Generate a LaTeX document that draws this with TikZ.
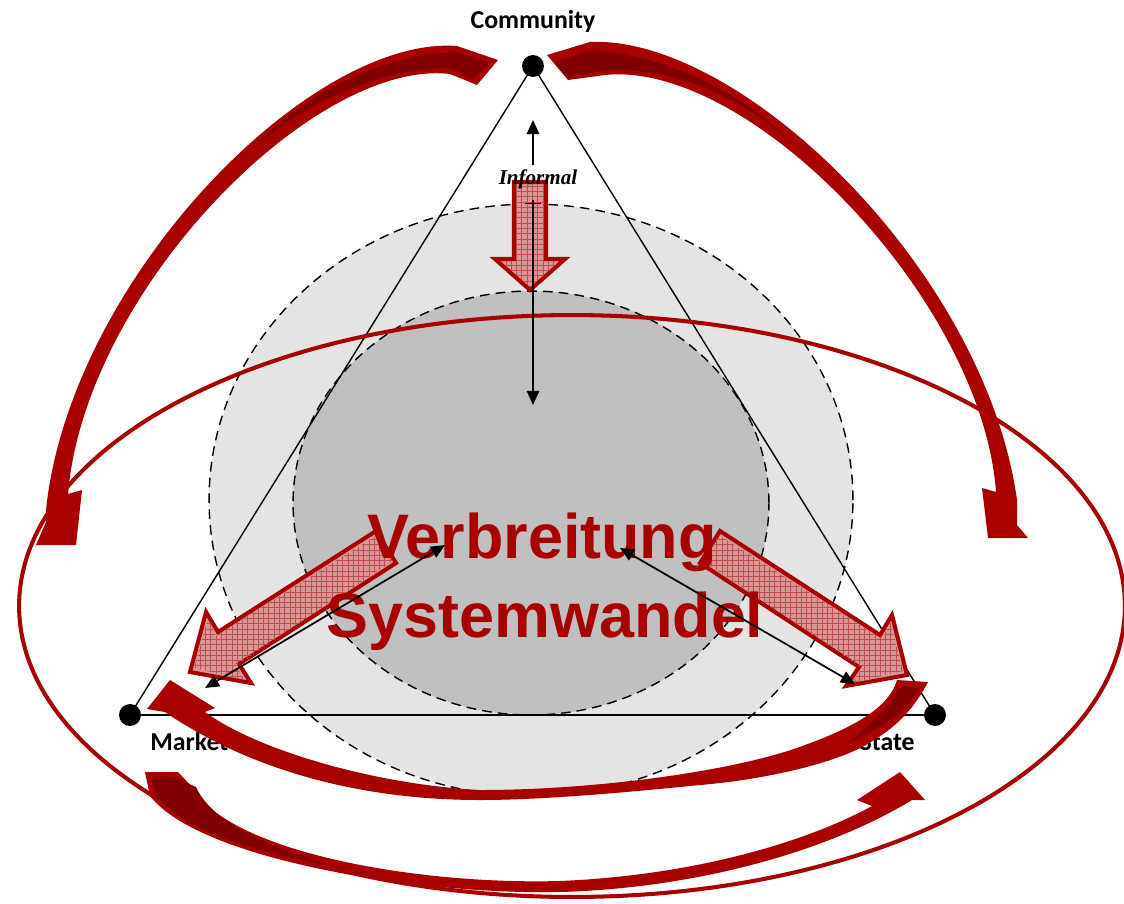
\documentclass[tikz,border=0pt]{standalone}
\usepackage{fontspec}
\setmainfont{Liberation Serif}
\newfontfamily\labelfont{Carlito}
\newfontfamily\bigfont{Liberation Sans}
\usetikzlibrary{arrows.meta,patterns}

\definecolor{arrowred}{RGB}{168,0,0}
\definecolor{backred}{RGB}{128,0,0}
\definecolor{hatchpink}{RGB}{214,152,152}
\definecolor{lightcircle}{RGB}{228,228,228}
\definecolor{darkcircle}{RGB}{192,192,192}

\begin{document}
\begin{tikzpicture}[x=0.02cm, y=-0.02cm,
    corner/.style={circle, fill=black, inner sep=0pt, minimum size=12.5pt},
    vertexlabel/.style={font=\labelfont\bfseries\fontsize{14.7}{17}\selectfont, inner sep=0pt},
    bigtext/.style={font=\bigfont\bfseries\fontsize{35.8}{43}\selectfont, text=arrowred, inner sep=0pt},
    zone/.style={dashed, dash pattern=on 5.5pt off 3.5pt, line width=0.8pt},
    blockarrow/.style={fill=hatchpink, draw=arrowred, line width=2.3pt, line join=miter},
    flow/.style={line width=1pt, {Triangle[length=8pt,width=7pt]}-{Triangle[length=8pt,width=7pt]}},
    loop/.style={arrowred, line width=2.3pt}]
  \useasboundingbox (0,0) rectangle (1124,903);

  % Circles (Background)
  \draw[zone, fill=lightcircle] (531,500) ellipse [x radius=6.44cm, y radius=5.92cm];
  \draw[zone, fill=darkcircle] (531,503) ellipse [x radius=4.76cm, y radius=4.24cm];

  % Triangle
  \node (community) [corner] at (533,66) {};
  \node (market) [corner] at (130,715) {};
  \node (state) [corner] at (935,715) {};
  \draw[line width=0.8pt] (community.center) -- (market.center);
  \draw[line width=0.8pt] (community.center) -- (state.center);
  \draw[line width=1.6pt] (market.center) -- (state.center);

  \node (communitylabel) [vertexlabel, anchor=base] at (533,28) {Community};
  \node (marketlabel) [vertexlabel, anchor=base west] at (150,750) {Market};
  \node (statelabel) [vertexlabel, anchor=base east] at (915,750) {State};

  % Thin loop
  \draw[loop] (572,606) ellipse [x radius=11.06cm, y radius=5.82cm];

  % Block arrows
  \draw[blockarrow] (514,182) -- (546,182) -- (546,259) -- (565,259) -- (530,290) -- (495,259) -- (514,259) -- cycle;
  \fill[pattern=grid, pattern color=arrowred!70] (516,184) -- (544,184) -- (544,261) -- (560,261) -- (530,287) -- (500,261) -- (516,261) -- cycle;
  \draw[blockarrow] (376,531) -- (218,632) -- (206,612) -- (190,672) -- (251,683) -- (239,664) -- (396,563) -- cycle;
  \fill[pattern=grid, pattern color=arrowred!70] (377,535) -- (216,636) -- (208,618) -- (194,668) -- (245,680) -- (235,666) -- (393,561) -- cycle;
  \draw[blockarrow] (720,531) -- (880,635) -- (892,615) -- (907,675) -- (846,686) -- (859,667) -- (700,563) -- cycle;
  \fill[pattern=grid, pattern color=arrowred!70] (719,535) -- (882,639) -- (890,621) -- (903,671) -- (852,683) -- (862,668) -- (703,561) -- cycle;

  % Main text
  \node (verbreitung) [bigtext, anchor=base] at (542,558) {Verbreitung};
  \node (systemwandel) [bigtext, anchor=base] at (545,637) {Systemwandel};

  % Black arrows
  \coordinate (inftail) at (533,165);
  \coordinate (inftip) at (533,120);
  \coordinate (downtail) at (533,200);
  \coordinate (downtip) at (533,405);
  \coordinate (lefttail) at (445,545);
  \coordinate (lefttip) at (205,688);
  \coordinate (righttail) at (620,548);
  \coordinate (righttip) at (855,684);
  \draw[line width=1.1pt, -{Triangle[length=8pt,width=7pt]}] (inftail) -- (inftip);
  \draw[line width=1.1pt, -{Triangle[length=8pt,width=7pt]}] (downtail) -- (downtip);
  \draw[line width=0.5pt] (525,203) -- (541,203);
  \draw[flow] (lefttip) -- (lefttail);
  \draw[flow] (righttail) -- (righttip);
  \node (informal) [font=\bfseries\itshape\fontsize{12}{14}\selectfont, inner sep=0pt, anchor=base] at (538,184) {Informal};

  % Curved arrows
  % Community -> left
  \fill[arrowred] (498,60) -- (457,46) .. controls (310,35) and (70,280) .. (46,510)
    -- (46,522) -- (36,545) -- (76,545) -- (82,490)
    -- (68,494) .. controls (85,290) and (315,58) .. (450,74) -- (477,85) -- cycle;
  \fill[backred] (491,63) -- (457,52) .. controls (370,55) and (290,105) .. (250,152)
    .. controls (290,112) and (370,68) .. (452,68) -- (472,79) -- cycle;
  % Community -> right
  \fill[arrowred] (547,55) -- (590,42) .. controls (740,35) and (985,270) .. (1017,500)
    -- (1017,525) -- (1028,538) -- (988,538) -- (982,488)
    -- (996,492) .. controls (982,300) and (750,60) .. (605,75) -- (568,80) -- cycle;
  \fill[backred] (555,62) -- (592,50) .. controls (680,58) and (750,100) .. (790,142)
    .. controls (745,100) and (680,68) .. (610,70) -- (566,77) -- cycle;
  % Market -> State
  \fill[arrowred] (145,772) -- (150,796) .. controls (200,860) and (420,895) .. (560,892)
    .. controls (700,888) and (830,850) .. (912,800)
    -- (925,800) -- (900,772) -- (857,800)
    -- (872,806) .. controls (810,840) and (700,875) .. (560,881)
    .. controls (410,885) and (230,850) .. (195,790) -- (178,772) -- cycle;
  \fill[backred] (151,778) -- (157,797) .. controls (190,835) and (260,852) .. (350,870)
    .. controls (265,848) and (212,822) .. (196,787) -- (174,777) -- cycle;
  % State -> Market
  \fill[arrowred] (928,682) .. controls (912,712) and (895,728) .. (866,745)
    .. controls (830,765) and (760,780) .. (700,785)
    .. controls (620,793) and (540,800) .. (480,800)
    .. controls (360,800) and (250,770) .. (165,712)
    -- (147,709) -- (170,680) -- (215,708) -- (205,712)
    .. controls (260,752) and (380,785) .. (480,790)
    .. controls (600,790) and (740,770) .. (805,745)
    .. controls (860,725) and (890,705) .. (897,680) -- cycle;
  \fill[backred] (904,686) -- (919,688) .. controls (906,712) and (888,724) .. (850,742)
    .. controls (872,724) and (888,708) .. (898,690) -- cycle;
\end{tikzpicture}
\end{document}
